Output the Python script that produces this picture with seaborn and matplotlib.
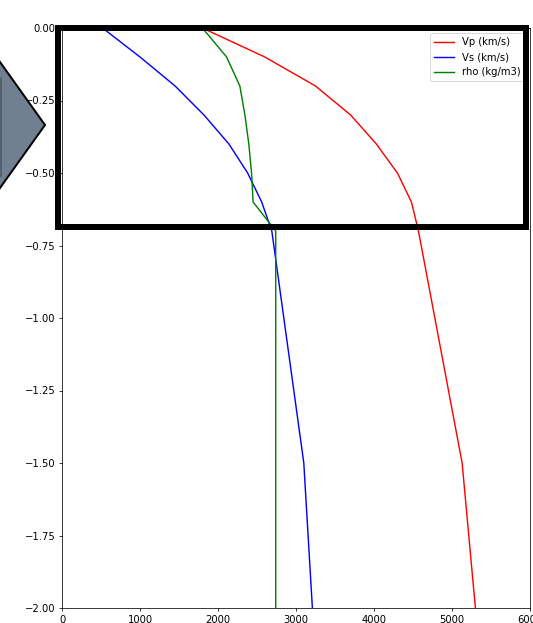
import matplotlib
matplotlib.use("Agg")
import matplotlib.pyplot as plt
from matplotlib.patches import Rectangle, Polygon
from matplotlib.lines import Line2D
import numpy as np
import seaborn as sns

# Layered velocity / density model (depth in km, negative downwards)
depth = [0.0, -0.1, -0.2, -0.3, -0.4, -0.5, -0.6, -0.7, -1.5, -2.0]
vp = [1800, 2600, 3250, 3700, 4030, 4300, 4480, 4570, 5130, 5300]
vs = [520, 1000, 1450, 1820, 2140, 2380, 2560, 2690, 3100, 3210]
rho = [1800, 2110, 2280, 2345, 2395, 2430, 2450, 2740, 2740, 2740]

series_labels = ["Vp (km/s)", "Vs (km/s)", "rho (kg/m3)"]
series_colors = ["red", "blue", "green"]
x_ticks = [0, 1000, 2000, 3000, 4000, 5000, 6000]
y_ticks = [-2.0, -1.75, -1.5, -1.25, -1.0, -0.75, -0.5, -0.25, 0.0]

plt.rcParams["font.size"] = 10.6

W, H, DPI = 533, 623, 68
fig = plt.figure(figsize=(W / DPI, H / DPI), dpi=DPI)
ax = fig.add_axes([62 / W, 1 - 608 / H, 468 / W, 580 / H])

for vals, lab, col in zip([vp, vs, rho], series_labels, series_colors):
    sns.lineplot(x=vals, y=depth, sort=False, estimator=None, color=col,
                 label=lab, ax=ax, linewidth=1.5)

ax.set_xlim(0, 6000)
ax.set_ylim(-2.0, 0.0)
ax.set_xticks(x_ticks)
ax.set_yticks(y_ticks)
ax.set_xlabel("")
ax.set_ylabel("")
ax.legend(loc="upper right", fontsize=10.6)

# Highlight frame around the shallow part of the profile (pixel coords)
def fx(px):
    return px / W

def fy(py):
    return 1 - py / H

frame = Rectangle((fx(58), fy(226.5)), fx(526) - fx(58), fy(28) - fy(226.5),
                  transform=fig.transFigure, fill=False, edgecolor="black",
                  linewidth=6 * 72 / DPI, zorder=10)
fig.add_artist(frame)

# Pointer marker on the left edge
pointer = Polygon([(fx(-25), fy(27)), (fx(45), fy(125)), (fx(-25), fy(223))],
                  closed=True, transform=fig.transFigure, facecolor="#708090",
                  edgecolor="black", linewidth=2 * 72 / DPI, zorder=11)
fig.add_artist(pointer)
fig.add_artist(Line2D([fx(1), fx(1)], [fy(78), fy(176)],
                      transform=fig.transFigure, color="#4a5862",
                      linewidth=1.5 * 72 / DPI, zorder=12))

fig.savefig("out.png", dpi=DPI)
